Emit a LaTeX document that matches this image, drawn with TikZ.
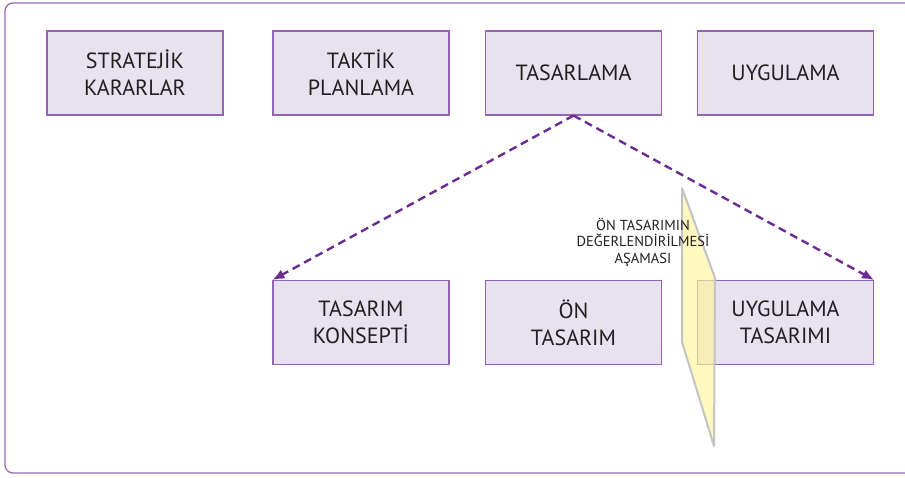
\documentclass[tikz,border=0pt]{standalone}
\usepackage{fontspec}
\setmainfont{PT Sans}
\usetikzlibrary{arrows.meta,positioning}
\definecolor{boxfill}{HTML}{E8E1EE}
\definecolor{boxline}{HTML}{9563B3}
\definecolor{arrowpurple}{HTML}{6A2C91}
\definecolor{framepurple}{HTML}{9B6BB5}
\definecolor{planefill}{HTML}{FFF59D}
\definecolor{planeline}{HTML}{C4C4C4}
\definecolor{textgray}{HTML}{231F20}
\tikzset{>=Latex}
\tikzset{
  stagebox/.style={draw=boxline, line width=1.1pt, fill=boxfill, minimum width=176pt,
    minimum height=84pt, inner sep=0pt, align=center, text=textgray,
    font=\fontsize{22}{27}\selectfont},
  flowarrow/.style={->, draw=arrowpurple, line width=2.4pt, dash pattern=on 8pt off 5pt,
    >={Latex[length=12pt,width=10pt]}},
  phaselabel/.style={align=center, text=textgray, inner sep=0pt,
    font=\fontsize{14.5}{16.5}\selectfont}
}

\begin{document}
\begin{tikzpicture}[x=1pt,y=-1pt]
            \useasboundingbox (0,0) rectangle (905,477);
            % outer frame, open to the right
            \draw[framepurple, line width=1.3pt, rounded corners=8pt]
                (915,3) -- (5,3) -- (5,473) -- (915,473);

            % top row
            \node[stagebox] (strateji) at (135,73) {STRATEJİK\\KARARLAR};
            \node[stagebox] (taktik) at (361,73) {TAKTİK\\PLANLAMA};
            \node[stagebox] (tasarlama) at (573.5,73) {TASARLAMA};
            \node[stagebox] (uygulama) at (785.5,73) {UYGULAMA};

            % bottom row
            \node[stagebox] (konsept) at (361,322.5) {TASARIM\\KONSEPTİ};
            \node[stagebox] (ontasarim) at (573.5,322.5) {ÖN\\TASARIM};
            \node[stagebox] (uygtasarim) at (785.5,322.5) {UYGULAMA\\TASARIMI};

            \draw[flowarrow] (tasarlama.south) -- (konsept.north west);
            \draw[flowarrow] (tasarlama.south) -- (uygtasarim.north east);

            % evaluation plane
            \draw[planeline, line width=2pt, fill=planefill, fill opacity=0.65, line join=round]
                (682,188) -- (715,278) -- (714,446) -- (682,342) -- cycle;
            \node[phaselabel] (degerlendirme) at (643,242) {ÖN TASARIMIN\\DEĞERLENDİRİLMESİ\\AŞAMASI};
\end{tikzpicture}
\end{document}
